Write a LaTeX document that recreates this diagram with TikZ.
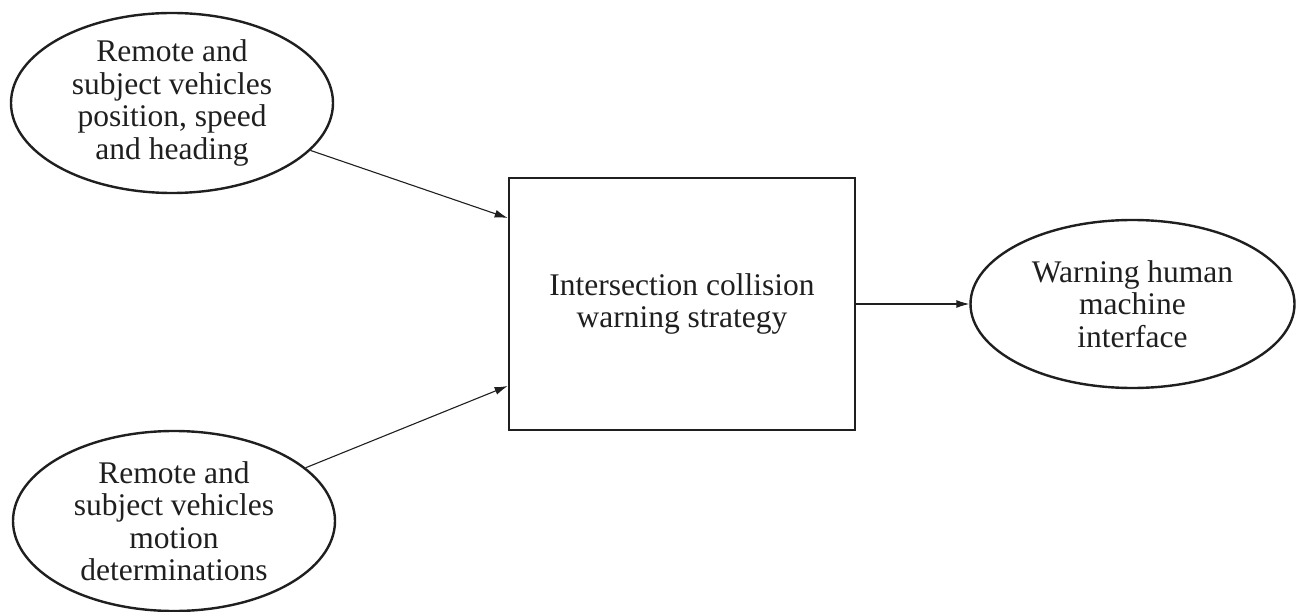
\documentclass[tikz,border=0pt]{standalone}
\usepackage{fontspec}
\setmainfont{Liberation Serif}
\usetikzlibrary{arrows.meta, positioning, shapes.geometric}

\begin{document}
\begin{tikzpicture}[
  x=1pt, y=-1pt,
  node distance=113pt,
  txt/.style={font=\fontsize{31.5}{32.5}\selectfont, align=center, text=black!88},
  oval/.style={ellipse, draw=black!88, line width=2.4pt, inner sep=0pt,
               minimum width=322pt, minimum height=180pt, txt},
  box/.style={rectangle, draw=black!88, line width=2.6pt,
              minimum width=346pt, minimum height=252pt, txt},
  arr/.style={-{Latex[length=13pt, width=8pt]}, line width=1.1pt, black!88}
]
\useasboundingbox (0,0) rectangle (1298,612);
\node[oval] (pos) at (172,103) {Remote and\\subject vehicles\\position, speed\\and heading};
\node[oval] (mot) at (174,521) {Remote and\\subject vehicles\\motion\\determinations};
\node[box] (icw) at (682,304) {Intersection collision\\warning strategy};
\node[oval, minimum width=324pt, minimum height=168pt, right=of icw] (hmi)
  {Warning human\\machine\\interface};
% entry points on the left side of the box
\coordinate (icw-a) at ([yshift=86pt]icw.west);
\coordinate (icw-b) at ([yshift=-82pt]icw.west);
\foreach \x/\y in {pos/icw-a,mot/icw-b,icw/hmi} \draw[arr] (\x) -- (\y);
\end{tikzpicture}
\end{document}
